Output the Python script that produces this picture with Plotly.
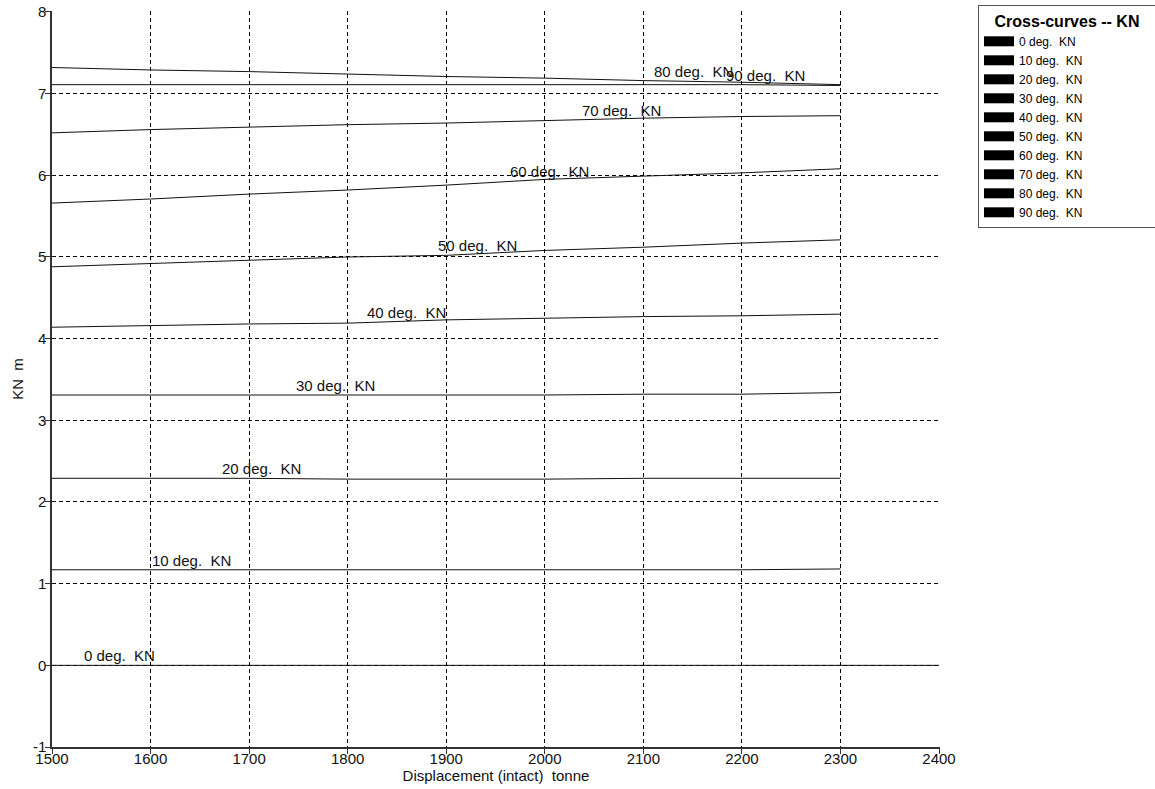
import numpy as np
import plotly.graph_objects as go

# ---- data ----
displacement = [1500, 1600, 1700, 1800, 1900, 2000, 2100, 2200, 2300]
displacement_0 = [1500, 1600, 1700, 1800, 1900, 2000, 2100, 2200, 2300, 2400]
kn_0 = [0, 0, 0, 0, 0, 0, 0, 0, 0, 0]
kn_10 = [1.17, 1.17, 1.17, 1.17, 1.17, 1.17, 1.17, 1.17, 1.18]
kn_20 = [2.29, 2.29, 2.29, 2.28, 2.28, 2.28, 2.29, 2.29, 2.29]
kn_30 = [3.31, 3.31, 3.31, 3.31, 3.31, 3.31, 3.32, 3.32, 3.34]
kn_40 = [4.14, 4.16, 4.18, 4.19, 4.23, 4.25, 4.27, 4.28, 4.30]
kn_50 = [4.88, 4.92, 4.96, 5.00, 5.02, 5.08, 5.12, 5.17, 5.21]
kn_60 = [5.66, 5.71, 5.77, 5.82, 5.88, 5.95, 5.99, 6.03, 6.08]
kn_70 = [6.52, 6.56, 6.59, 6.62, 6.64, 6.67, 6.70, 6.72, 6.73]
kn_80 = [7.32, 7.29, 7.27, 7.24, 7.21, 7.19, 7.16, 7.14, 7.11]
kn_90 = [7.11, 7.11, 7.11, 7.11, 7.11, 7.11, 7.11, 7.11, 7.10]

series_names = ["0 deg.  KN", "10 deg.  KN", "20 deg.  KN", "30 deg.  KN", "40 deg.  KN",
                "50 deg.  KN", "60 deg.  KN", "70 deg.  KN", "80 deg.  KN", "90 deg.  KN"]
series_x = [displacement_0] + [displacement] * 9
series_y = [kn_0, kn_10, kn_20, kn_30, kn_40, kn_50, kn_60, kn_70, kn_80, kn_90]
label_x = [1533, 1602, 1674, 1749, 1821, 1893, 1966, 2039, 2112, 2185]

x_ticks = [1500, 1600, 1700, 1800, 1900, 2000, 2100, 2200, 2300, 2400]
y_ticks = [-1, 0, 1, 2, 3, 4, 5, 6, 7, 8]

FONT = "Liberation Sans, Arial, sans-serif"

fig = go.Figure()
for name, xs, ys in zip(series_names, series_x, series_y):
    fig.add_trace(go.Scatter(x=xs, y=ys, mode="lines", name=name,
                             line=dict(color="#111111", width=1),
                             showlegend=False, hoverinfo="x+y+name"))
# legend entries (black blocks)
for name in series_names:
    fig.add_trace(go.Scatter(x=[None], y=[None], mode="lines", name=name,
                             line=dict(color="black", width=10),
                             showlegend=True))

for name, xs, ys, lx in zip(series_names, series_x, series_y, label_x):
    ly = float(np.interp(lx, xs, ys))
    fig.add_annotation(x=lx, y=ly, text=name, showarrow=False, xanchor="left",
                       yanchor="bottom", yshift=-1, xshift=-3,
                       font=dict(family=FONT, size=15, color="#111111"))

grid = dict(showgrid=True, gridcolor="black", gridwidth=1, griddash="4px,3px",
            showline=True, linecolor="#333333", linewidth=1.5, ticks="outside",
            ticklen=5, tickcolor="#333333", zeroline=False,
            tickfont=dict(family=FONT, size=15, color="#111111"))

fig.update_layout(
    width=1155, height=789,
    margin=dict(l=52, r=215, t=11, b=42, pad=0),
    paper_bgcolor="white", plot_bgcolor="white",
    xaxis=dict(range=[1500, 2401], tickvals=x_ticks, ticktext=[str(v) for v in x_ticks],
               ticklabelstandoff=-8,
               title=dict(text="Displacement (intact)  tonne", standoff=0,
                          font=dict(family=FONT, size=15, color="#111111")),
               automargin=False, **grid),
    yaxis=dict(range=[-1, 8.012], tickvals=y_ticks, ticktext=[str(v) for v in y_ticks],
               ticklabelstandoff=-4,
               title=dict(text="KN  m", standoff=6,
                          font=dict(family=FONT, size=15, color="#111111")),
               automargin=False, **grid),
    legend=dict(x=978 / 1155, xanchor="left", y=1 - 5 / 789, yanchor="top",
                xref="container", yref="container",
                bgcolor="white", bordercolor="#555555", borderwidth=1,
                font=dict(family=FONT, size=12, color="black"),
                tracegroupgap=0,
                title=dict(text="<b>&nbsp;&nbsp;&nbsp;Cross-curves -- KN&nbsp;&nbsp;&nbsp;</b>",
                           side="top center",
                           font=dict(family=FONT, size=16, color="black")),
                itemclick=False, itemdoubleclick=False),
    showlegend=True,
)

fig.write_html("out.html", post_script="document.body.style.margin='0px';",
               config={"displayModeBar": False})
